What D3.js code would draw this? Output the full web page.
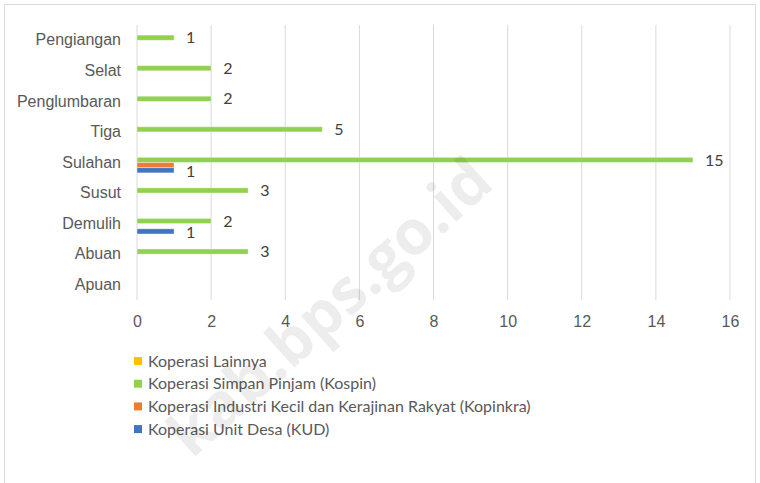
<!DOCTYPE html>
<html>
<head>
<meta charset="utf-8">
<script src="https://cdn.jsdelivr.net/npm/d3@7"></script>
<style>
  body { margin: 0; background: #fff; }
  svg { display: block; font-family: Lato, "Noto Sans", sans-serif; }
  .tick text { fill: #595959; }
</style>
</head>
<body>
<div id="chart"></div>
<script>
// categories top to bottom
const villages = ["Pengiangan", "Selat", "Penglumbaran", "Tiga", "Sulahan", "Susut", "Demulih", "Abuan", "Apuan"];
// series drawn top to bottom inside each group
const seriesNames = [
  "Koperasi Lainnya",
  "Koperasi Simpan Pinjam (Kospin)",
  "Koperasi Industri Kecil dan Kerajinan Rakyat (Kopinkra)",
  "Koperasi Unit Desa (KUD)"
];
const seriesColors = ["#ffc000", "#92d050", "#ed7d31", "#4472c4"];
const lainnya  = [0, 0, 0, 0, 0, 0, 0, 0, 0];
const kospin   = [1, 2, 2, 5, 15, 3, 2, 3, 0];
const kopinkra = [0, 0, 0, 0, 1, 0, 0, 0, 0];
const kud      = [0, 0, 0, 0, 1, 0, 1, 0, 0];
const showLabel = [true, true, false, true]; // Kopinkra label hidden in the original
const xTicks = [0, 2, 4, 6, 8, 10, 12, 14, 16];

const values = [lainnya, kospin, kopinkra, kud];
const W = 760, H = 483;
const margin = { top: 25, left: 137, right: 30, bottom: 183 };
const fs = 16;

const svg = d3.select("#chart").append("svg")
  .attr("width", W).attr("height", H);

svg.append("rect")
  .attr("x", 4.5).attr("y", 4.5)
  .attr("width", 751).attr("height", 500)
  .attr("fill", "#fff").attr("stroke", "#d9d9d9");

const x = d3.scaleLinear().domain([0, 16]).range([margin.left, W - margin.right]);
const y = d3.scaleBand().domain(villages).range([margin.top, H - margin.bottom]).paddingInner(0.32).paddingOuter(0.16);
const ys = d3.scaleBand().domain(d3.range(seriesNames.length)).range([0, y.bandwidth()]);

// grid
svg.append("g").selectAll("line").data(xTicks).join("line")
  .attr("x1", d => x(d)).attr("x2", d => x(d))
  .attr("y1", margin.top).attr("y2", H - margin.bottom)
  .attr("stroke", "#d9d9d9").attr("stroke-width", 1);

// x axis labels
const xAxis = svg.append("g")
  .attr("transform", `translate(0,${H - margin.bottom + 12})`)
  .call(d3.axisBottom(x).tickValues(xTicks).tickSize(0).tickPadding(4));
xAxis.select(".domain").remove();
xAxis.selectAll("text").attr("font-size", fs);

// y axis labels
const yAxis = svg.append("g")
  .attr("transform", `translate(${margin.left - 16},0)`)
  .call(d3.axisLeft(y).tickSize(0).tickPadding(0));
yAxis.select(".domain").remove();
yAxis.selectAll("text").attr("font-size", fs);

// bars
const rows = [];
values.forEach((arr, s) => arr.forEach((v, i) => rows.push({ s, v, cat: villages[i] })));

svg.append("g").selectAll("rect").data(rows.filter(d => d.v > 0)).join("rect")
  .attr("x", x(0))
  .attr("y", d => y(d.cat) + ys(d.s))
  .attr("width", d => x(d.v) - x(0))
  .attr("height", ys.bandwidth())
  .attr("fill", d => seriesColors[d.s])
  .attr("stroke", "#fff").attr("stroke-opacity", 0.5).attr("stroke-width", 0.8);

svg.append("g").selectAll("text").data(rows.filter(d => d.v > 0 && showLabel[d.s])).join("text")
  .attr("x", d => x(d.v) + 12)
  .attr("y", d => y(d.cat) + ys(d.s) + ys.bandwidth() / 2 + (d.s === 3 ? 1 : 0))
  .attr("dy", "0.35em")
  .attr("font-size", fs)
  .attr("fill", "#404040")
  .text(d => d.v);

// legend
const legend = svg.append("g").attr("transform", "translate(134,361)");
const li = legend.selectAll("g").data(seriesNames).join("g")
  .attr("transform", (d, i) => `translate(0,${i * 22.7})`);
li.append("rect").attr("x", 0).attr("y", -4).attr("width", 8).attr("height", 8)
  .attr("fill", (d, i) => seriesColors[i]);
li.append("text").attr("x", 14).attr("dy", "0.35em")
  .attr("font-size", fs).attr("fill", "#595959").text(d => d);

// watermark
svg.append("text")
  .attr("transform", "translate(496,186) rotate(-42)")
  .attr("text-anchor", "end")
  .attr("font-size", 62).attr("font-weight", "bold")
  .attr("font-family", "'Open Sans', sans-serif")
  .attr("fill", "#000").attr("fill-opacity", 0.07)
  .text("kab.bps.go.id");
</script>
</body>
</html>
